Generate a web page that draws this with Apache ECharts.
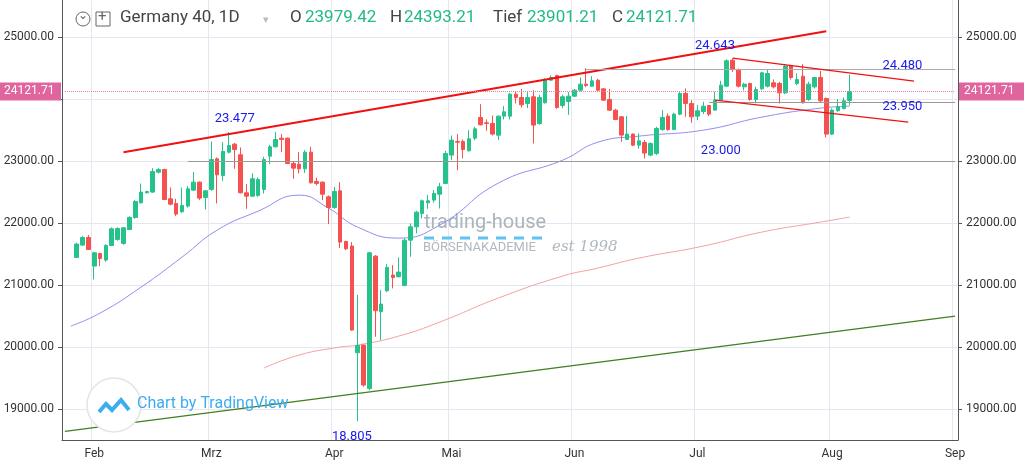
<!DOCTYPE html>
<html>
<head>
<meta charset="utf-8">
<script src="https://cdn.jsdelivr.net/npm/echarts@6/dist/echarts.min.js"></script>
<style>
  html, body { margin:0; padding:0; background:#fff; }
  #chart { width:1024px; height:468px; }
</style>
</head>
<body>
<div id="chart"></div>
<script>
// Kurswerte, Reihenfolge: open, close, low, high
var opens  = [21446,21645,21768,21306,21510,21403,21639,21736,21672,21897,22091,22327,22489,22500,22822,22865,22392,22317,22182,22274,22532,22661,22414,22543,23037,22768,23145,23274,23102,22489,22435,22446,22543,23080,23231,23371,23371,22962,22951,22876,23145,22672,22661,22424,22252,22521,21704,21629,19908,20032,19333,21467,20570,20908,21161,21134,20994,21725,21940,22156,22328,22371,22467,22640,23097,23317,23317,23166,23371,23704,23618,23607,23419,23726,23726,24080,24027,23930,24038,23607,23941,24306,24382,23898,23962,24048,24145,24242,24209,24306,24166,23995,23822,23715,23350,23436,23258,23300,23097,23124,23511,23726,23511,23758,24092,23930,23726,23801,23898,23823,23984,24210,24629,24468,24199,24253,23995,24167,24210,24264,24253,24102,24543,24253,24371,23995,24199,24350,24011,23436,23812,23850,23979];
var closes = [21661,21768,21575,21521,21429,21639,21908,21914,21924,22091,22349,22500,22510,22833,22865,22381,22306,22145,22285,22553,22661,22403,22521,23027,22779,23156,23252,23188,22489,22435,22715,22704,23027,23231,23349,23349,22962,22887,22876,23145,22650,22640,22467,22252,22510,21693,21586,20274,20026,19387,21521,20586,20693,21285,21123,21209,21725,21940,22177,22360,22360,22478,22586,23123,23339,23306,23188,23360,23521,23586,23607,23436,23726,23796,24080,24027,23909,24027,23581,24027,24306,24349,23865,24038,24048,24145,24242,24220,24295,24145,23984,23822,23672,23420,23436,23258,23328,23130,23285,23527,23705,23511,23758,24092,23930,23715,23812,23887,23758,23984,24226,24619,24479,24210,24242,23995,24156,24425,24414,24199,24102,24533,24350,24317,23941,24242,24350,23973,23436,23823,23877,23973,24121.71];
var lows   = [21446,21629,21565,21091,21306,21376,21629,21715,21650,21886,22070,22317,22478,22489,22801,22370,22285,22113,22166,22252,22521,22370,22220,22521,22317,22683,23123,22876,22478,22231,22424,22424,22478,22951,23220,23145,22951,22715,22801,22811,22640,22607,22370,21983,22231,21596,21564,20263,18805,19360,19306,20166,20112,20887,20946,21123,20983,21457,21833,22075,22231,22328,22236,22629,23016,22855,23043,23156,23339,23575,23489,23414,23339,23672,23672,23930,23865,23855,23285,23586,23930,24296,23844,23855,23747,24038,24124,24193,24199,24113,23973,23812,23661,23312,23339,23242,23200,23043,23080,23097,23489,23489,23500,23742,23715,23618,23661,23758,23726,23812,23973,24199,24441,24188,24145,23973,23930,24145,24188,24172,23930,24081,24317,24226,23930,23973,24172,23952,23382,23420,23796,23834,23901.21];
var highs  = [21682,21790,21806,21537,21521,21661,21930,21930,21935,22112,22370,22639,22521,22887,22887,22876,22575,22392,22575,22596,22822,22672,22532,23317,23059,23306,23470,23295,23220,22629,22801,22736,23070,23263,23468,23435,23381,22994,23145,23177,23231,22736,22672,22446,22586,22661,21715,21693,20843,20032,21537,21483,20919,21338,21322,21446,21752,21994,22198,22381,22451,22532,22650,23166,23414,23435,23349,23500,23554,23919,23672,23736,23736,23887,24102,24124,24166,24113,24145,24070,24339,24382,24392,24070,24113,24166,24349,24500,24371,24328,24177,24166,23844,23726,23726,23446,23450,23340,23300,23554,23823,23769,23780,24119,24172,23984,23904,23957,23904,24119,24296,24643,24656,24495,24264,24264,24199,24441,24479,24317,24280,24565,24554,24414,24565,24280,24360,24457,24027,23850,24000,24027,24393.21];

// gleitende Durchschnitte: [Achsenindex, Wert]
var ma50  = [[1,20338],[6,20548],[13,20967],[20,21451],[26,21887],[33,22193],[40,22451],[45,22242],[50,21935],[57,21758],[64,21968],[74,22645],[85,23016],[91,23306],[98,23403],[109,23500],[119,23710],[129,23855],[134,23887]];
var ma200 = [[34,19661],[40,19871],[47,20000],[50,20032],[57,20177],[64,20403],[74,20790],[85,21145],[91,21274],[98,21435],[109,21629],[119,21855],[129,22016],[134,22097]];

var yTicks = [19000,20000,21000,22000,23000,24000,25000];
var yLabels = [19000,20000,21000,22000,23000,25000]; // 24000 liegt unter der Preismarke
var monthNames = ['Jan','Feb','Mrz','Apr','Mai','Jun','Jul','Aug','Sep'];
var holidays = ['2025-04-18','2025-04-21','2025-05-01'];
var lastPrice = 24121.71;
var OFF = 2; // leere Tage vor der ersten Kerze

// Handelstage (inkl. leere Zukunft bis Anfang Sep)
var days = [];
var d = new Date(Date.UTC(2025,0,27));
while (days.length < 153) {
    var wd = d.getUTCDay();
    var s = d.toISOString().slice(0,10);
    if (wd != 0 && wd != 6 && holidays.indexOf(s) < 0) days.push(s);
    d.setUTCDate(d.getUTCDate() + 1);
}
var monthStart = {};
for (var i = 1; i < days.length; i++) {
    if (days[i].slice(5,7) != days[i-1].slice(5,7)) monthStart[i] = true;
}

var candles = [];
for (var i = 0; i < OFF; i++) candles.push('-');
for (var i = 0; i < opens.length; i++) candles.push([opens[i], closes[i], lows[i], highs[i]]);

var green = '#26c28c', red = '#f4514f';

function seg(i1, v1, i2, v2, color, w) {
    return [{coord:[i1, v1], lineStyle:{color:color, width:w, type:'solid'}}, {coord:[i2, v2]}];
}
function tag(i, v, txt) {
    return {coord:[i, v], value:txt};
}

var chart = echarts.init(document.getElementById('chart'));
var option = {
    animation: false,
    backgroundColor: '#fff',
    grid: { left: 62, right: 66, top: 0, bottom: 28 },
    xAxis: {
        type: 'category',
        data: days,
        boundaryGap: true,
        axisLine: { lineStyle: { color: '#555' } },
        axisTick: { show: false },
        axisLabel: {
            color: '#333', fontSize: 12, fontFamily: 'Roboto',
            interval: function (idx) { return !!monthStart[idx]; },
            formatter: function (v) { return monthNames[parseInt(v.slice(5,7),10) - 1]; }
        },
        splitLine: { show: true, interval: function (idx) { return !!monthStart[idx]; }, lineStyle: { color: '#e6e6f2' } }
    },
    yAxis: [{
        type: 'value', position: 'left', min: 18500, max: 25600,
        axisLine: { show: true, lineStyle: { color: '#555' } },
        axisTick: { show: true, customValues: yTicks, length: 4 },
        axisLabel: { customValues: yLabels, color: '#333', fontSize: 12, fontFamily: 'Roboto',
            formatter: function (v) { return v.toFixed(2); } },
        splitLine: { show: true, lineStyle: { color: '#e6e6f2' } }
    }, {
        type: 'value', position: 'right', min: 18500, max: 25600,
        axisLine: { show: true, lineStyle: { color: '#555' } },
        axisTick: { show: true, customValues: yTicks, length: 4 },
        axisLabel: { customValues: yLabels, color: '#333', fontSize: 12, fontFamily: 'Roboto',
            formatter: function (v) { return v.toFixed(2); } },
        splitLine: { show: false }
    }],
    series: [{
        type: 'candlestick',
        data: candles,
        barWidth: '70%',
        itemStyle: { color: green, color0: red, borderColor: green, borderColor0: red, borderWidth: 1 },
        markLine: {
            silent: true, symbol: 'none', label: { show: false },
            data: [
                seg(10.4, 23145, 130.4, 25097, '#f01010', 2),
                seg(0, 18640, 152, 20500, '#3f7f1f', 1.2),
                seg(21, 23000, 152, 23000, '#999', 1.2),
                seg(88.5, 24480, 152, 24480, '#aaa', 1.2),
                seg(110, 23950, 152, 23950, '#999', 1.2),
                seg(113.7, 24661, 145.3, 24290, '#f01010', 1.2),
                seg(111.3, 23984, 143.6, 23629, '#f01010', 1.2),
                [{coord:[0,lastPrice], lineStyle:{color:'#e87aa8', type:'dotted', width:1}}, {coord:[152,lastPrice]}]
            ]
        },
        markPoint: {
            symbol: 'circle', symbolSize: 0,
            label: { show: true, color: '#1a1aee', fontSize: 13, fontFamily: 'Roboto',
                formatter: function (p) { return p.value; } },
            data: [
                tag(29, 23690, '23.477'),
                tag(110.5, 24860, '24.643'),
                tag(142.5, 24540, '24.480'),
                tag(142.5, 23870, '23.950'),
                tag(112, 23160, '23.000'),
                tag(49, 18560, '18.805')
            ]
        }
    }, {
        type: 'line', data: ma50, symbol: 'none', smooth: true,
        lineStyle: { color: '#8f8ff0', width: 1 }, z: 1
    }, {
        type: 'line', data: ma200, symbol: 'none', smooth: true,
        lineStyle: { color: '#f5a0a0', width: 1 }, z: 1
    }]
};
chart.setOption(option);

var py = chart.convertToPixel({yAxisIndex: 0}, lastPrice);
function t(x, txt, col) {
    return { type: 'text', left: x, top: 9, z: 100,
        style: { text: txt, fill: col, font: '17px Roboto' } };
}
chart.setOption({
    graphic: [
        { type: 'circle', shape: { cx: 83, cy: 19, r: 7 }, style: { fill: 'none', stroke: '#666', lineWidth: 1 }, z: 100 },
        { type: 'text', left: 78, top: 10, style: { text: '⌄', fill: '#666', font: '12px DejaVu Sans' }, z: 100 },
        { type: 'rect', shape: { x: 96, y: 12, width: 14, height: 14 }, style: { fill: 'none', stroke: '#666', lineWidth: 1 }, z: 100 },
        { type: 'text', left: 98, top: 10, style: { text: '+', fill: '#666', font: '15px Roboto' }, z: 100 },
        t(120, 'Germany 40, 1D', '#444'),
        { type: 'text', left: 263, top: 15, style: { text: '▾', fill: '#bbb', font: '11px DejaVu Sans' }, z: 100 },
        t(290, 'O', '#444'), t(305, '23979.42', '#22b98a'),
        t(390, 'H', '#444'), t(404, '24393.21', '#22b98a'),
        t(493, 'Tief', '#444'), t(527, '23901.21', '#22b98a'),
        t(612, 'C', '#444'), t(626, '24121.71', '#22b98a'),
        // Preismarken
        { type: 'rect', shape: { x: 0, y: py - 9, width: 61, height: 18 }, style: { fill: '#e0649e' }, z: 100 },
        { type: 'text', left: 4, top: py - 7, style: { text: '24121.71', fill: '#fff', font: '12px Roboto' }, z: 101 },
        { type: 'rect', shape: { x: 959, y: py - 9, width: 65, height: 18 }, style: { fill: '#e0649e' }, z: 100 },
        { type: 'text', left: 964, top: py - 7, style: { text: '24121.71', fill: '#fff', font: '12px Roboto' }, z: 101 },
        // Wasserzeichen
        { type: 'text', left: 424, top: 213, style: { text: 'trading-house', fill: '#a9b4bd', font: '20px Roboto' }, z: 0 },
        { type: 'line', shape: { x1: 424, y1: 238, x2: 546, y2: 238 }, style: { stroke: '#5bc4f0', lineWidth: 3, lineDash: [10, 8] }, z: 0 },
        { type: 'text', left: 423, top: 241, style: { text: 'BÖRSENAKADEMIE', fill: '#b0b8c0', font: '13px Roboto' }, z: 0 },
        { type: 'text', left: 552, top: 240, style: { text: 'est 1998', fill: '#b0b8c0', font: 'italic 15px DejaVu Serif' }, z: 0 },
        // TradingView Logo
        { type: 'circle', shape: { cx: 114, cy: 405, r: 27 }, style: { fill: '#fff', stroke: '#e4e4e4', lineWidth: 1.5 }, z: 100 },
        { type: 'polyline', shape: { points: [[99,412],[106,404],[112,410],[121,400],[129,410]] }, style: { fill: 'none', stroke: '#3badf0', lineWidth: 4 }, z: 101 },
        { type: 'text', left: 137, top: 396, style: { text: 'Chart by TradingView', fill: '#3badf0', font: '16px Roboto' }, z: 100 }
    ]
});

window.onresize = function () { chart.resize(); };
</script>
</body>
</html>
